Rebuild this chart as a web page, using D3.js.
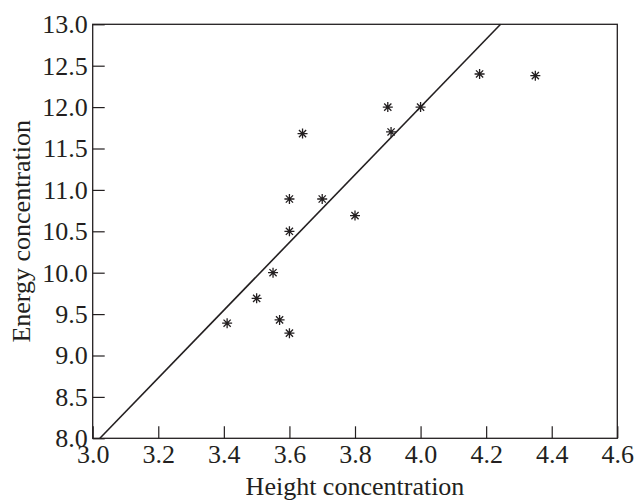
<!DOCTYPE html>
<html>
<head>
<meta charset="utf-8">
<script src="https://cdn.jsdelivr.net/npm/d3@7"></script>
<style>
  body { margin: 0; background: #fff; }
</style>
</head>
<body>
<svg id="chart" width="634" height="500"></svg>
<script>
// measured points (height vs energy concentration)
let heightVals = [3.41, 3.50, 3.55, 3.57, 3.60, 3.60, 3.60, 3.64, 3.70, 3.80, 3.90, 3.91, 4.00, 4.18, 4.35];
let energyVals = [9.39, 9.69, 10.00, 9.43, 9.27, 10.50, 10.89, 11.68, 10.89, 10.69, 12.00, 11.70, 12.00, 12.40, 12.38];

// fitted line end points
let fitX = [3.022, 4.244];
let fitY = [8.0, 13.0];

let xTicks = [3.0, 3.2, 3.4, 3.6, 3.8, 4.0, 4.2, 4.4, 4.6];
let yTicks = [8.0, 8.5, 9.0, 9.5, 10.0, 10.5, 11.0, 11.5, 12.0, 12.5, 13.0];

let padL = 92.7, padR = 617.3, padT = 24.3, padB = 438.3;
let ink = '#231f20';
let serif = '"Liberation Serif", "Times New Roman", serif';

let svg = d3.select('#chart');
let x = d3.scaleLinear().domain([3.0, 4.6]).range([padL, padR]);
let y = d3.scaleLinear().domain([8.0, 13.0]).range([padB, padT]);

// frame
svg.append('rect')
    .attr('x', padL).attr('y', padT)
    .attr('width', padR - padL).attr('height', padB - padT)
    .attr('fill', 'none').attr('stroke', ink).attr('stroke-width', 1.3);

// bottom axis, ticks inward
let xAxis = svg.append('g')
    .attr('transform', `translate(0, ${padB})`)
    .call(d3.axisBottom(x).tickValues(xTicks).tickSizeInner(-12).tickSizeOuter(0).tickPadding(6).tickFormat(d3.format('.1f')))
    .attr('font-family', serif)
    .attr('font-size', 26);
xAxis.select('.domain').remove();
xAxis.selectAll('line').attr('stroke', ink).attr('stroke-width', 1.2);
xAxis.selectAll('text').attr('fill', ink);

// left axis, ticks inward
let yAxis = svg.append('g')
    .attr('transform', `translate(${padL}, 0)`)
    .call(d3.axisLeft(y).tickValues(yTicks).tickSizeInner(-12).tickSizeOuter(0).tickPadding(5).tickFormat(d3.format('.1f')))
    .attr('font-family', serif)
    .attr('font-size', 26);
yAxis.select('.domain').remove();
yAxis.selectAll('line').attr('stroke', ink).attr('stroke-width', 1.2);
yAxis.selectAll('text').attr('fill', ink);

// fitted line
svg.append('line')
    .attr('x1', x(fitX[0])).attr('y1', y(fitY[0]))
    .attr('x2', x(fitX[1])).attr('y2', y(fitY[1]))
    .attr('stroke', ink).attr('stroke-width', 1.6);

// asterisk markers
let pts = heightVals.map((h, i) => ({ h: h, e: energyVals[i] }));
let star = 'M-5,0L5,0M0,-5L0,5M-3.6,-3.6L3.6,3.6M-3.6,3.6L3.6,-3.6';
svg.append('g')
    .selectAll('path')
    .data(pts)
    .enter()
    .append('path')
    .attr('transform', d => `translate(${x(d.h)}, ${y(d.e)})`)
    .attr('d', star)
    .attr('stroke', ink)
    .attr('stroke-width', 1.3)
    .attr('fill', 'none');

// axis titles
svg.append('text')
    .attr('x', (padL + padR) / 2)
    .attr('y', 495)
    .attr('text-anchor', 'middle')
    .attr('font-family', serif)
    .attr('font-size', 26)
    .attr('fill', ink)
    .text('Height concentration');

svg.append('text')
    .attr('transform', `translate(30, ${(padT + padB) / 2}) rotate(-90)`)
    .attr('text-anchor', 'middle')
    .attr('font-family', serif)
    .attr('font-size', 26)
    .attr('fill', ink)
    .text('Energy concentration');
</script>
</body>
</html>
